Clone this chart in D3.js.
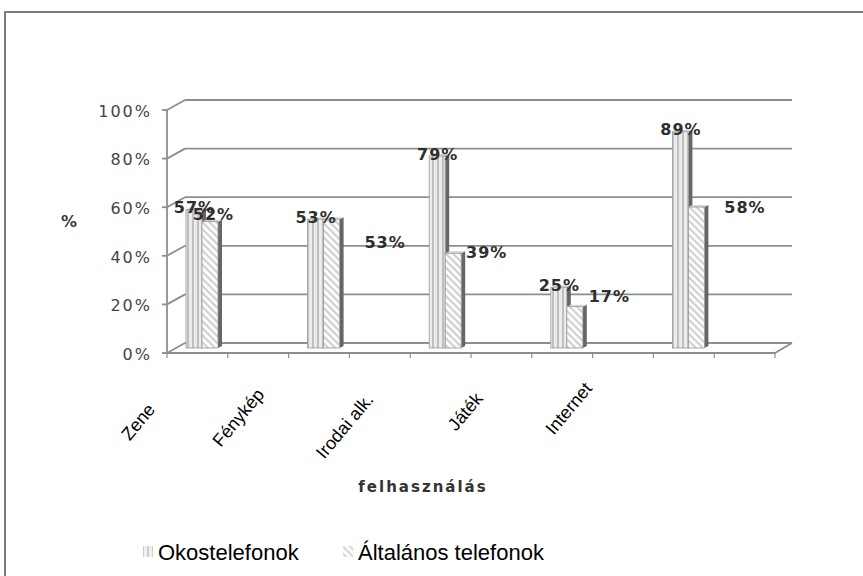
<!DOCTYPE html>
<html>
<head>
<meta charset="utf-8">
<script src="https://cdn.jsdelivr.net/npm/d3@7"></script>
<style>
  html, body { margin: 0; padding: 0; background: #fff; overflow: hidden; }
  svg { display: block; }
</style>
</head>
<body>
<svg id="chart" width="863" height="576"></svg>
<script>
// ---- data ----
const categories = ["Zene", "Fénykép", "Irodai alk.", "Játék", "Internet"];
const seriesNames = ["Okostelefonok", "Általános telefonok"];
const okostelefonok = [57, 53, 79, 25, 89];
const altalanos = [52, 53, 39, 17, 58];
const yTicks = [0, 20, 40, 60, 80, 100];
const yTickLabels = ["0%", "20%", "40%", "60%", "80%", "100%"];
const yTitle = "%";
const xTitle = "felhasználás";

// ---- layout tweaks (labels that sit off their bars, staggered category labels) ----
const altLabelShift = [[3, -7], [53, 23], [33, -1], [34, -10], [48, 0]];
const catLabelDrop = [12, -3, 2, 1, -9];

const svg = d3.select("#chart");

// 3-D frame: front plane, back wall is shifted by (depthX, depthY)
const depthX = 18, depthY = -10;
const frontLeft = 167, frontRight = 775;

const yFront = d3.scaleLinear().domain([0, 100]).range([353, 110]);
const yBack = d3.scaleLinear().domain([0, 100]).range([353 + depthY, 110 + depthY]);
const yBar = d3.scaleLinear().domain([0, 100]).range([353 + depthY / 2, 110 + depthY / 2]);

const xCat = d3.scaleBand().domain(categories).range([frontLeft, frontRight]).paddingInner(0);
const xSlot = d3.scaleLinear().domain([0, categories.length * 2]).range([frontLeft, frontRight]);
const xLabel = d3.scalePoint().domain(categories).range([156, 593]);

// ---- patterns ----
const defs = svg.append("defs");
const stripes = defs.append("pattern").attr("id", "stripes")
  .attr("patternUnits", "userSpaceOnUse").attr("width", 5).attr("height", 10);
stripes.append("rect").attr("width", 5).attr("height", 10).attr("fill", "#ececec");
stripes.append("line").attr("x1", 3).attr("x2", 3).attr("y1", 0).attr("y2", 10)
  .attr("stroke", "#adadad").attr("stroke-width", 1.4);

const hatch = defs.append("pattern").attr("id", "hatch")
  .attr("patternUnits", "userSpaceOnUse").attr("width", 5).attr("height", 5)
  .attr("patternTransform", "rotate(-45)");
hatch.append("rect").attr("width", 5).attr("height", 5).attr("fill", "#fbfbfb");
hatch.append("line").attr("x1", 1).attr("x2", 1).attr("y1", 0).attr("y2", 5)
  .attr("stroke", "#a4a4a4").attr("stroke-width", 1);

// ---- outer frame ----
svg.append("rect").attr("x", 5).attr("y", 12).attr("width", 900).attr("height", 620)
  .attr("fill", "#fff").attr("stroke", "#7c7c7c").attr("stroke-width", 2);

const gridColor = "#8e8e8e";
const grid = svg.append("g").attr("stroke", gridColor).attr("stroke-width", 1.8).attr("fill", "none");

// back-wall gridlines
grid.selectAll(".gl").data(yTicks).join("line")
  .attr("x1", frontLeft + depthX).attr("x2", frontRight + depthX - 1)
  .attr("y1", d => yBack(d)).attr("y2", d => yBack(d));
// side-wall connectors
grid.selectAll(".cn").data(yTicks).join("line")
  .attr("x1", frontLeft).attr("y1", d => yFront(d))
  .attr("x2", frontLeft + depthX).attr("y2", d => yBack(d));
// value axis line and ticks
grid.append("line").attr("x1", frontLeft).attr("x2", frontLeft)
  .attr("y1", yFront(0)).attr("y2", yFront(100));
grid.selectAll(".tk").data(yTicks).join("line")
  .attr("x1", frontLeft - 5).attr("x2", frontLeft)
  .attr("y1", d => yFront(d)).attr("y2", d => yFront(d));
// floor front edge and right edge
grid.append("line").attr("x1", frontLeft).attr("x2", frontRight)
  .attr("y1", yFront(0)).attr("y2", yFront(0));
grid.append("line").attr("x1", frontRight).attr("y1", yFront(0))
  .attr("x2", frontRight + depthX - 1).attr("y2", yBack(0));
// category ticks
grid.selectAll(".xt").data(d3.range(categories.length * 2 + 1)).join("line")
  .attr("x1", d => xSlot(d)).attr("x2", d => xSlot(d))
  .attr("y1", yFront(0)).attr("y2", yFront(0) + 5)
  .attr("stroke-width", 1.2);

// ---- bars ----
const barW = 16, sideW = 4, sideRise = 2;
const series = [
  { values: okostelefonok, fill: "url(#stripes)", offset: 0 },
  { values: altalanos, fill: "url(#hatch)", offset: barW }
];
const barsG = svg.append("g");
series.forEach(s => {
  categories.forEach((c, i) => {
    const x0 = xCat(c) + depthX / 2 + 10 + s.offset;
    const yT = yBar(s.values[i]);
    const yB = yBar(0);
    const g = barsG.append("g");
    // side face
    g.append("path")
      .attr("d", `M${x0 + barW},${yB} L${x0 + barW},${yT} L${x0 + barW + sideW},${yT - sideRise} L${x0 + barW + sideW},${yB - sideRise} Z`)
      .attr("fill", "#666");
    // top face
    g.append("path")
      .attr("d", `M${x0},${yT} L${x0 + barW},${yT} L${x0 + barW + sideW},${yT - sideRise} L${x0 + sideW},${yT - sideRise} Z`)
      .attr("fill", "#d4d4d4");
    // front face
    g.append("rect").attr("x", x0).attr("y", yT).attr("width", barW).attr("height", yB - yT)
      .attr("fill", s.fill).attr("stroke", "#9a9a9a").attr("stroke-width", 0.8);
  });
});

// ---- value axis labels ----
const labelFont = "'DejaVu Sans', sans-serif";
svg.append("g").selectAll("text").data(yTicks).join("text")
  .attr("x", 150 + 2).attr("y", d => yFront(d) + 1)
  .attr("dy", "0.36em").attr("text-anchor", "end")
  .attr("font-family", labelFont).attr("font-size", 16)
  .attr("letter-spacing", 2).attr("fill", "#444")
  .text((d, i) => yTickLabels[i]);

svg.append("text").attr("x", 69).attr("y", 221).attr("dy", "0.36em")
  .attr("text-anchor", "middle").attr("font-family", labelFont)
  .attr("font-weight", "bold").attr("font-size", 16).attr("fill", "#3a3a3a")
  .text(yTitle);

// ---- data labels ----
const dl = svg.append("g").attr("font-family", labelFont).attr("font-weight", "bold")
  .attr("font-size", 16).attr("letter-spacing", 1).attr("fill", "#2e2e2e")
  .attr("text-anchor", "middle");
categories.forEach((c, i) => {
  const x0 = xCat(c) + depthX / 2 + 10;
  dl.append("text").attr("x", x0 + barW / 2 + 0.5).attr("y", yBar(okostelefonok[i]) - 2)
    .attr("dy", "0.36em").text(okostelefonok[i] + "%");
  dl.append("text").attr("x", x0 + barW + barW / 2 + altLabelShift[i][0] + 0.5)
    .attr("y", yBar(altalanos[i]) + altLabelShift[i][1])
    .attr("dy", "0.36em").text(altalanos[i] + "%");
});

// ---- category labels ----
svg.append("g").selectAll("text").data(categories).join("text")
  .attr("transform", (d, i) => `translate(${xLabel(d)},${398 + catLabelDrop[i]}) rotate(-50)`)
  .attr("text-anchor", "end")
  .attr("font-family", "'Liberation Sans', Arial, sans-serif").attr("font-size", 18)
  .attr("fill", "#000")
  .text(d => d);

svg.append("text").attr("x", 423).attr("y", 487).attr("dy", "0.36em")
  .attr("text-anchor", "middle").attr("font-family", labelFont)
  .attr("font-weight", "bold").attr("font-size", 15).attr("letter-spacing", 2)
  .attr("fill", "#333").text(xTitle);

// ---- legend ----
const legend = svg.append("g").attr("font-family", "'Liberation Sans', Arial, sans-serif")
  .attr("font-size", 22).attr("fill", "#000");
const legendX = [158, 358];
const legendFill = ["url(#stripes)", "url(#hatch)"];
seriesNames.forEach((name, i) => {
  legend.append("rect").attr("x", legendX[i] - 15).attr("y", 546).attr("width", 10).attr("height", 11)
    .attr("fill", legendFill[i]).attr("opacity", 0.8);
  legend.append("text").attr("x", legendX[i]).attr("y", 560).text(name);
});
</script>
</body>
</html>
